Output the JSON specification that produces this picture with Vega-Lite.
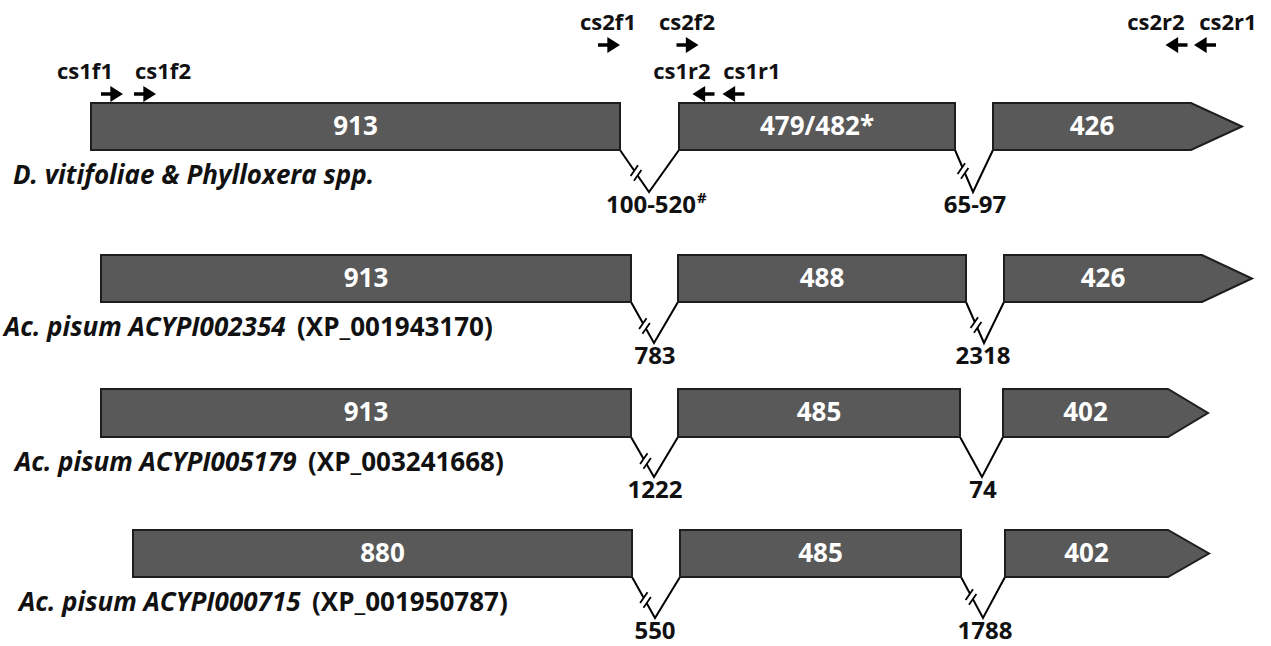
{
  "$schema": "https://vega.github.io/schema/vega-lite/v6.json",
  "width": 1271,
  "height": 646,
  "padding": 0,
  "autosize": {"type": "none"},
  "background": "white",
  "config": {"view": {"stroke": null}, "font": "Open Sans"},
  "datasets": {
    "outline": [
      {"exon": "r1e1", "x": 91, "top": 103, "bottom": 150},
      {"exon": "r1e1", "x": 620, "top": 103, "bottom": 150},
      {"exon": "r1e2", "x": 679, "top": 103, "bottom": 150},
      {"exon": "r1e2", "x": 955, "top": 103, "bottom": 150},
      {"exon": "r1e3", "x": 993, "top": 103, "bottom": 150},
      {"exon": "r1e3", "x": 1191, "top": 103, "bottom": 150},
      {"exon": "r1e3", "x": 1242, "top": 126.5, "bottom": 126.5},
      {"exon": "r2e1", "x": 101, "top": 255, "bottom": 302},
      {"exon": "r2e1", "x": 631, "top": 255, "bottom": 302},
      {"exon": "r2e2", "x": 678, "top": 255, "bottom": 302},
      {"exon": "r2e2", "x": 966, "top": 255, "bottom": 302},
      {"exon": "r2e3", "x": 1004, "top": 255, "bottom": 302},
      {"exon": "r2e3", "x": 1202, "top": 255, "bottom": 302},
      {"exon": "r2e3", "x": 1252, "top": 278.5, "bottom": 278.5},
      {"exon": "r3e1", "x": 101, "top": 389, "bottom": 437},
      {"exon": "r3e1", "x": 631, "top": 389, "bottom": 437},
      {"exon": "r3e2", "x": 678, "top": 389, "bottom": 437},
      {"exon": "r3e2", "x": 960, "top": 389, "bottom": 437},
      {"exon": "r3e3", "x": 1003, "top": 389, "bottom": 437},
      {"exon": "r3e3", "x": 1168, "top": 389, "bottom": 437},
      {"exon": "r3e3", "x": 1208, "top": 413, "bottom": 413},
      {"exon": "r4e1", "x": 133, "top": 530, "bottom": 577},
      {"exon": "r4e1", "x": 632, "top": 530, "bottom": 577},
      {"exon": "r4e2", "x": 680, "top": 530, "bottom": 577},
      {"exon": "r4e2", "x": 961, "top": 530, "bottom": 577},
      {"exon": "r4e3", "x": 1005, "top": 530, "bottom": 577},
      {"exon": "r4e3", "x": 1168, "top": 530, "bottom": 577},
      {"exon": "r4e3", "x": 1209, "top": 553.5, "bottom": 553.5}
    ],
    "exons": [
      {"exon": "r1e1", "label": "913", "start": 91, "end": 620, "top": 103, "bottom": 150},
      {"exon": "r1e2", "label": "479/482*", "start": 679, "end": 955, "top": 103, "bottom": 150},
      {"exon": "r1e3", "label": "426", "start": 993, "end": 1191, "top": 103, "bottom": 150},
      {"exon": "r2e1", "label": "913", "start": 101, "end": 631, "top": 255, "bottom": 302},
      {"exon": "r2e2", "label": "488", "start": 678, "end": 966, "top": 255, "bottom": 302},
      {"exon": "r2e3", "label": "426", "start": 1004, "end": 1202, "top": 255, "bottom": 302},
      {"exon": "r3e1", "label": "913", "start": 101, "end": 631, "top": 389, "bottom": 437},
      {"exon": "r3e2", "label": "485", "start": 678, "end": 960, "top": 389, "bottom": 437},
      {"exon": "r3e3", "label": "402", "start": 1003, "end": 1168, "top": 389, "bottom": 437},
      {"exon": "r4e1", "label": "880", "start": 133, "end": 632, "top": 530, "bottom": 577},
      {"exon": "r4e2", "label": "485", "start": 680, "end": 961, "top": 530, "bottom": 577},
      {"exon": "r4e3", "label": "402", "start": 1005, "end": 1168, "top": 530, "bottom": 577}
    ],
    "introns": [
      {"intron": "r1i1", "x": 620, "y": 150}, {"intron": "r1i1", "x": 649, "y": 192}, {"intron": "r1i1", "x": 679, "y": 150},
      {"intron": "r1i2", "x": 955, "y": 150}, {"intron": "r1i2", "x": 973, "y": 192}, {"intron": "r1i2", "x": 993, "y": 150},
      {"intron": "r2i1", "x": 631, "y": 302}, {"intron": "r2i1", "x": 654, "y": 343}, {"intron": "r2i1", "x": 678, "y": 302},
      {"intron": "r2i2", "x": 966, "y": 302}, {"intron": "r2i2", "x": 984, "y": 343}, {"intron": "r2i2", "x": 1004, "y": 302},
      {"intron": "r3i1", "x": 631, "y": 437}, {"intron": "r3i1", "x": 654, "y": 477}, {"intron": "r3i1", "x": 678, "y": 437},
      {"intron": "r3i2", "x": 960, "y": 437}, {"intron": "r3i2", "x": 982, "y": 477}, {"intron": "r3i2", "x": 1003, "y": 437},
      {"intron": "r4i1", "x": 632, "y": 577}, {"intron": "r4i1", "x": 655, "y": 618}, {"intron": "r4i1", "x": 680, "y": 577},
      {"intron": "r4i2", "x": 961, "y": 577}, {"intron": "r4i2", "x": 983, "y": 618}, {"intron": "r4i2", "x": 1005, "y": 577}
    ],
    "intronLabels": [
      {"intron": "r1i1", "vx": 651, "vy": 192, "label": "100-520", "sup": "#"},
      {"intron": "r1i2", "vx": 975, "vy": 192, "label": "65-97", "sup": ""},
      {"intron": "r2i1", "vx": 655, "vy": 343, "label": "783", "sup": ""},
      {"intron": "r2i2", "vx": 983, "vy": 343, "label": "2318", "sup": ""},
      {"intron": "r3i1", "vx": 655, "vy": 477, "label": "1222", "sup": ""},
      {"intron": "r3i2", "vx": 983, "vy": 477, "label": "74", "sup": ""},
      {"intron": "r4i1", "vx": 655, "vy": 618, "label": "550", "sup": ""},
      {"intron": "r4i2", "vx": 985, "vy": 618, "label": "1788", "sup": ""}
    ],
    "breaks": [
      {"intron": "r1i1", "bx": 636, "by": 173},
      {"intron": "r1i2", "bx": 963, "by": 171},
      {"intron": "r2i1", "bx": 644.5, "by": 326},
      {"intron": "r2i2", "bx": 976, "by": 325},
      {"intron": "r3i1", "bx": 645.5, "by": 461},
      {"intron": "r4i1", "bx": 645.5, "by": 600},
      {"intron": "r4i2", "bx": 971, "by": 597}
    ],
    "primers": [
      {"name": "cs1f1", "dir": "f", "x": 112, "y": 94, "labelX": 85},
      {"name": "cs1f2", "dir": "f", "x": 145, "y": 94, "labelX": 163},
      {"name": "cs2f1", "dir": "f", "x": 609, "y": 45, "labelX": 608},
      {"name": "cs2f2", "dir": "f", "x": 687.5, "y": 45, "labelX": 687},
      {"name": "cs1r2", "dir": "r", "x": 703.5, "y": 94, "labelX": 682},
      {"name": "cs1r1", "dir": "r", "x": 733.5, "y": 94, "labelX": 752},
      {"name": "cs2r2", "dir": "r", "x": 1176.5, "y": 45, "labelX": 1156},
      {"name": "cs2r1", "dir": "r", "x": 1205, "y": 45, "labelX": 1228}
    ],
    "rows": [
      {"row": 1, "species": "D. vitifoliae & Phylloxera spp.", "speciesStart": 13, "accession": "", "accessionStart": 0, "bottom": 150},
      {"row": 2, "species": "Ac. pisum ACYPI002354", "speciesStart": 4, "accession": "(XP_001943170)", "accessionStart": 297, "bottom": 302},
      {"row": 3, "species": "Ac. pisum ACYPI005179", "speciesStart": 15, "accession": "(XP_003241668)", "accessionStart": 308, "bottom": 437},
      {"row": 4, "species": "Ac. pisum ACYPI000715", "speciesStart": 19, "accession": "(XP_001950787)", "accessionStart": 312, "bottom": 577}
    ]
  },
  "layer": [
    {
      "data": {"name": "introns"},
      "mark": {"type": "line", "color": "black", "strokeWidth": 2, "interpolate": "linear"},
      "encoding": {
        "x": {"field": "x", "type": "quantitative", "scale": {"domain": [0, 1271], "nice": false, "zero": false}, "axis": null},
        "y": {"field": "y", "type": "quantitative", "scale": {"domain": [0, 646], "nice": false, "zero": false, "reverse": true}, "axis": null},
        "detail": {"field": "intron"}
      }
    },
    {
      "data": {"name": "outline"},
      "mark": {"type": "area", "orient": "vertical", "fill": "#595959", "stroke": "#1e1e1e", "strokeWidth": 2, "strokeJoin": "miter", "opacity": 1},
      "encoding": {
        "x": {"field": "x", "type": "quantitative", "scale": {"domain": [0, 1271], "nice": false, "zero": false}, "axis": null},
        "y": {"field": "top", "type": "quantitative", "stack": null, "scale": {"domain": [0, 646], "nice": false, "zero": false, "reverse": true}, "axis": null},
        "y2": {"field": "bottom"},
        "detail": {"field": "exon"}
      }
    },
    {
      "data": {"name": "breaks"},
      "mark": {"type": "point", "shape": "M-0.45,0.25 L0.17,-0.65 L0.45,-0.25 L-0.17,0.65 Z", "filled": true, "fill": "white", "strokeWidth": 0, "size": 576, "opacity": 1},
      "encoding": {
        "x": {"field": "bx", "type": "quantitative", "scale": {"domain": [0, 1271], "nice": false, "zero": false}, "axis": null},
        "y": {"field": "by", "type": "quantitative", "scale": {"domain": [0, 646], "nice": false, "zero": false, "reverse": true}, "axis": null}
      }
    },
    {
      "data": {"name": "breaks"},
      "mark": {"type": "point", "shape": "M-0.45,0.25 L0.17,-0.65 M-0.17,0.65 L0.45,-0.25", "filled": false, "stroke": "black", "strokeWidth": 1.8, "size": 576, "opacity": 1},
      "encoding": {
        "x": {"field": "bx", "type": "quantitative", "scale": {"domain": [0, 1271], "nice": false, "zero": false}, "axis": null},
        "y": {"field": "by", "type": "quantitative", "scale": {"domain": [0, 646], "nice": false, "zero": false, "reverse": true}, "axis": null}
      }
    },
    {
      "data": {"name": "primers"},
      "transform": [{"filter": "datum.dir === 'f'"}],
      "mark": {"type": "point", "shape": "M-1,-0.17 L-0.15,-0.17 L-0.15,-0.72 L1,0 L-0.15,0.72 L-0.15,0.17 L-1,0.17 Z", "filled": true, "color": "black", "size": 484, "opacity": 1, "strokeWidth": 0},
      "encoding": {
        "x": {"field": "x", "type": "quantitative", "scale": {"domain": [0, 1271], "nice": false, "zero": false}, "axis": null},
        "y": {"field": "y", "type": "quantitative", "scale": {"domain": [0, 646], "nice": false, "zero": false, "reverse": true}, "axis": null}
      }
    },
    {
      "data": {"name": "primers"},
      "transform": [{"filter": "datum.dir === 'r'"}],
      "mark": {"type": "point", "shape": "M1,-0.17 L0.15,-0.17 L0.15,-0.72 L-1,0 L0.15,0.72 L0.15,0.17 L1,0.17 Z", "filled": true, "color": "black", "size": 484, "opacity": 1, "strokeWidth": 0},
      "encoding": {
        "x": {"field": "x", "type": "quantitative", "scale": {"domain": [0, 1271], "nice": false, "zero": false}, "axis": null},
        "y": {"field": "y", "type": "quantitative", "scale": {"domain": [0, 646], "nice": false, "zero": false, "reverse": true}, "axis": null}
      }
    },
    {
      "data": {"name": "primers"},
      "mark": {"type": "text", "font": "Open Sans", "fontWeight": "bold", "fontSize": 22, "color": "#111111", "align": "center", "baseline": "middle", "dy": -22},
      "encoding": {
        "x": {"field": "labelX", "type": "quantitative", "scale": {"domain": [0, 1271], "nice": false, "zero": false}, "axis": null},
        "y": {"field": "y", "type": "quantitative", "scale": {"domain": [0, 646], "nice": false, "zero": false, "reverse": true}, "axis": null},
        "text": {"field": "name"}
      }
    },
    {
      "data": {"name": "exons"},
      "transform": [
        {"calculate": "(datum.start + datum.end) / 2", "as": "mid"},
        {"calculate": "(datum.top + datum.bottom) / 2", "as": "midY"}
      ],
      "mark": {"type": "text", "font": "Open Sans", "fontWeight": "bold", "fontSize": 26, "color": "white", "align": "center", "baseline": "middle"},
      "encoding": {
        "x": {"field": "mid", "type": "quantitative", "scale": {"domain": [0, 1271], "nice": false, "zero": false}, "axis": null},
        "y": {"field": "midY", "type": "quantitative", "scale": {"domain": [0, 646], "nice": false, "zero": false, "reverse": true}, "axis": null},
        "text": {"field": "label"}
      }
    },
    {
      "data": {"name": "intronLabels"},
      "mark": {"type": "text", "font": "Open Sans", "fontWeight": "bold", "fontSize": 24, "color": "#111111", "align": "center", "baseline": "middle", "dy": 14},
      "encoding": {
        "x": {"field": "vx", "type": "quantitative", "scale": {"domain": [0, 1271], "nice": false, "zero": false}, "axis": null},
        "y": {"field": "vy", "type": "quantitative", "scale": {"domain": [0, 646], "nice": false, "zero": false, "reverse": true}, "axis": null},
        "text": {"field": "label"}
      }
    },
    {
      "data": {"name": "intronLabels"},
      "transform": [{"filter": "datum.sup !== ''"}],
      "mark": {"type": "text", "font": "Open Sans", "fontWeight": "bold", "fontSize": 15, "color": "#111111", "align": "left", "baseline": "middle", "dx": 46, "dy": 6},
      "encoding": {
        "x": {"field": "vx", "type": "quantitative", "scale": {"domain": [0, 1271], "nice": false, "zero": false}, "axis": null},
        "y": {"field": "vy", "type": "quantitative", "scale": {"domain": [0, 646], "nice": false, "zero": false, "reverse": true}, "axis": null},
        "text": {"field": "sup"}
      }
    },
    {
      "data": {"name": "rows"},
      "mark": {"type": "text", "font": "Open Sans", "fontWeight": "bold", "fontStyle": "italic", "fontSize": 26, "color": "#111111", "align": "left", "baseline": "middle", "dy": 26},
      "encoding": {
        "x": {"field": "speciesStart", "type": "quantitative", "scale": {"domain": [0, 1271], "nice": false, "zero": false}, "axis": null},
        "y": {"field": "bottom", "type": "quantitative", "scale": {"domain": [0, 646], "nice": false, "zero": false, "reverse": true}, "axis": null},
        "text": {"field": "species"}
      }
    },
    {
      "data": {"name": "rows"},
      "transform": [{"filter": "datum.accession !== ''"}],
      "mark": {"type": "text", "font": "Open Sans", "fontWeight": "bold", "fontSize": 26, "color": "#111111", "align": "left", "baseline": "middle", "dy": 26},
      "encoding": {
        "x": {"field": "accessionStart", "type": "quantitative", "scale": {"domain": [0, 1271], "nice": false, "zero": false}, "axis": null},
        "y": {"field": "bottom", "type": "quantitative", "scale": {"domain": [0, 646], "nice": false, "zero": false, "reverse": true}, "axis": null},
        "text": {"field": "accession"}
      }
    }
  ]
}
